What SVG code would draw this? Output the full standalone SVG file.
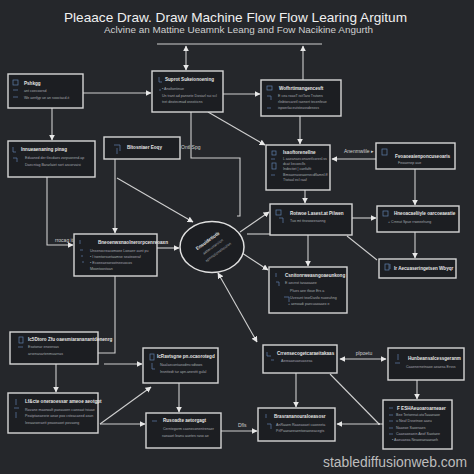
<svg xmlns="http://www.w3.org/2000/svg" width="474" height="474" viewBox="0 0 474 474">
<defs>
<marker id="ah" viewBox="0 0 10 10" refX="9" refY="5" markerWidth="6" markerHeight="6" markerUnits="userSpaceOnUse" orient="auto-start-reverse"><path d="M0,0 L10,5 L0,10 z" fill="#e8e8e8"/></marker>
<style>
.box{fill:#1c1e22;stroke:#d6d6d6;stroke-width:1.4}
.c{stroke:#cfcfcf;stroke-width:1.1;fill:none}
.t{font-family:"Liberation Sans",Arial,sans-serif;fill:#e4e4e4;font-size:4.6px;font-weight:bold}
.s{font-family:"Liberation Sans",Arial,sans-serif;fill:#a4a8ae;font-size:3.6px}
.lbl{font-family:"Liberation Sans",Arial,sans-serif;fill:#d0d0d0;font-size:5px}
.ic{fill:none;stroke:#5f80ad;stroke-width:0.7}
</style>
</defs>
<rect width="474" height="474" fill="#25272b"/>
<text x="64" y="21.5" font-family="'Liberation Sans',Arial,sans-serif" font-size="13" fill="#f0f0f0" textLength="343" lengthAdjust="spacingAndGlyphs">Pleaace Draw. Draw Machine Flow Flow Learing Argitum</text>
<text x="104" y="32.5" font-family="'Liberation Sans',Arial,sans-serif" font-size="8.5" fill="#cfcfcf" textLength="269" lengthAdjust="spacingAndGlyphs">Aclvine an Mattine Ueamnk Leang and Fow Nacikine Angurth</text>

<g id="connectors">
<line class="c" x1="157" y1="44" x2="322" y2="44"/>
<line class="c" x1="186" y1="46" x2="186" y2="70" marker-start="url(#ah)" marker-end="url(#ah)"/>
<line class="c" x1="303" y1="80" x2="303" y2="46" marker-end="url(#ah)"/>
<line class="c" x1="83" y1="93" x2="151" y2="93" marker-end="url(#ah)"/>
<line class="c" x1="52" y1="108" x2="52" y2="140" marker-end="url(#ah)"/>
<line class="c" x1="223" y1="94" x2="260" y2="94" marker-end="url(#ah)"/>
<line class="c" x1="208" y1="112" x2="265" y2="145" marker-end="url(#ah)"/>
<path class="c" d="M191,112 V158 H240 V216 H237"/>
<line class="c" x1="300" y1="116" x2="300" y2="144" marker-end="url(#ah)"/>
<line class="c" x1="376" y1="159" x2="332" y2="159" marker-end="url(#ah)"/>
<line class="c" x1="415" y1="169" x2="415" y2="205" marker-end="url(#ah)"/>
<line class="c" x1="305" y1="190" x2="305" y2="203" marker-end="url(#ah)"/>
<line class="c" x1="352" y1="218" x2="376" y2="218" marker-end="url(#ah)"/>
<line class="c" x1="415" y1="232" x2="415" y2="258" marker-end="url(#ah)"/>
<line class="c" x1="347" y1="236" x2="377" y2="260"/>
<line class="c" x1="247" y1="234" x2="270" y2="234"/>
<line class="c" x1="308" y1="235" x2="308" y2="266" marker-end="url(#ah)"/>
<line class="c" x1="240" y1="232" x2="269" y2="212" marker-end="url(#ah)"/>
<line class="c" x1="242" y1="253" x2="268" y2="270" marker-end="url(#ah)"/>
<line class="c" x1="218" y1="273" x2="257" y2="342" marker-start="url(#ah)" marker-end="url(#ah)"/>
<line class="c" x1="115" y1="159" x2="115" y2="233" marker-end="url(#ah)"/>
<line class="c" x1="117" y1="178" x2="193" y2="222" marker-end="url(#ah)"/>
<path class="c" d="M47,177 V245 H73" marker-end="url(#ah)"/>
<line class="c" x1="157" y1="248" x2="179" y2="248" marker-end="url(#ah)"/>
<path class="c" d="M115,276 V353 H98"/>
<line class="c" x1="104" y1="364" x2="142" y2="364" marker-end="url(#ah)"/>
<line class="c" x1="56" y1="364" x2="56" y2="392" marker-end="url(#ah)"/>
<line class="c" x1="100" y1="424" x2="151" y2="387" marker-end="url(#ah)"/>
<line class="c" x1="100" y1="424" x2="145" y2="424" marker-end="url(#ah)"/>
<line class="c" x1="179" y1="383" x2="179" y2="412" marker-end="url(#ah)"/>
<line class="c" x1="221" y1="431" x2="257" y2="431" marker-end="url(#ah)"/>
<line class="c" x1="340" y1="359" x2="386" y2="359" marker-start="url(#ah)" marker-end="url(#ah)"/>
<line class="c" x1="296" y1="373" x2="296" y2="407" marker-end="url(#ah)"/>
<line class="c" x1="330" y1="374" x2="379" y2="424"/>
<circle cx="379" cy="424" r="1" fill="#e8e8e8"/>
<line class="c" x1="383" y1="424" x2="337" y2="424" marker-end="url(#ah)"/>
<line class="c" x1="417" y1="380" x2="417" y2="399" marker-end="url(#ah)"/>
<text class="lbl" x="181" y="149">Ontl Spg</text>
<text class="lbl" x="55" y="242">rrocag it</text>
<text class="lbl" x="344" y="153">Anenmwlile ▸</text>
<text class="lbl" x="364" y="355" text-anchor="middle">plpoetu</text>
<text class="lbl" x="238" y="427">Dfls</text>
</g>

<g id="nA"><rect class="box" x="8" y="74" width="75" height="34"/>
<rect class="ic" x="13" y="80" width="5" height="5"/><path class="ic" d="M13,90 h5 M13,97 h5"/>
<text class="t" x="24" y="85">Pshkgg</text><text class="s" x="24" y="92">ant coecoorsd</text><text class="s" x="24" y="99">We aenfyp ue an sooctacd.it</text></g>

<g id="nB"><rect class="box" x="152" y="71" width="71" height="41"/>
<path class="ic" d="M159,77 v5 h3"/><path class="ic" d="M159,90 h2"/>
<text class="t" x="165" y="81">Suprot Sukeionoening</text><text class="s" x="162" y="90">• Anoltontinue</text><text class="s" x="162" y="97">Un trant ad pansete Dosiarl sui scl</text><text class="s" x="162" y="103">tret deotecmad ossstiicns</text></g>

<g id="nC"><rect class="box" x="8" y="141" width="87" height="36"/>
<path class="ic" d="M13,147 v5 h3 M13,158 h4 v4"/>
<text class="t" x="21" y="151">Innueaenaning pinag</text><text class="s" x="25" y="159">Eduaned der tlecdaes zorpuorend.ap</text><text class="s" x="25" y="166">Daecntag Bararlaiet sort ascorvaisi</text></g>

<g id="nD"><rect class="box" x="104" y="137" width="76" height="22"/>
<path class="ic" d="M114,145 h6 v6 M117,148 v6"/>
<text class="t" x="127" y="149">Bltosniaer Eoqy</text></g>

<g id="nE"><rect class="box" x="261" y="80" width="80" height="36"/>
<rect class="ic" x="267" y="86" width="5" height="4"/><path class="ic" d="M267,96 h4 v4 M267,108 h4"/>
<text class="t" x="279" y="90">Wofhrtimangencesft</text><text class="s" x="278" y="97">E cea roaoT isitTaro Trutons</text><text class="s" x="278" y="103">rlisbtorcaretl raenert tecenfeue</text><text class="s" x="278" y="109">ispoerlaceutsteassdessss</text></g>

<g id="nG"><rect class="box" x="266" y="145" width="64" height="45"/>
<rect class="ic" x="272" y="151" width="4" height="4"/><rect class="ic" x="272" y="163" width="4" height="6"/><path class="ic" d="M271,159 h4 M271,175 h4"/>
<text class="t" x="283" y="154">Isaoftorenellne</text><text class="s" x="283" y="160">L aaeanaeconaretlcoresl.ss</text><text class="s" x="283" y="165">dcat liecoeclls</text><text class="s" x="283" y="170">Indectiet | canfaftt</text><text class="s" x="283" y="176">Bmsaenaseaornecdflamnl.ff</text><text class="s" x="283" y="181">Ttotaal ecl raaf</text></g>

<g id="nH"><rect class="box" x="376" y="143" width="79" height="26"/>
<rect class="ic" x="382" y="149" width="5" height="6"/>
<text class="t" x="395" y="158">Fvoaoeaienponcuseoaris</text><text class="s" x="398" y="164">Feoaenep aue</text></g>

<g id="nI"><rect class="box" x="377" y="206" width="82" height="26"/>
<rect class="ic" x="383" y="211" width="5" height="5"/>
<text class="t" x="394" y="215">Hneoacaeliiyle oarcoeaeatie</text><text class="s" x="388" y="223">+ Crnnut Spue rrweeehung</text></g>

<g id="nF"><rect class="box" x="270" y="204" width="82" height="31"/>
<rect class="ic" x="276" y="210" width="5" height="5"/><path class="ic" d="M279,218 h4 v5"/>
<text class="t" x="290" y="215">Rotwoe Lasest.at Pilwen</text><text class="s" x="290" y="222">Tuo mt ttrosowesanng</text></g>

<g id="nJ"><rect class="box" x="379" y="259" width="77" height="19"/>
<rect class="ic" x="385" y="264" width="4" height="6"/><path class="ic" d="M390,264 v5"/>
<text class="t" x="394" y="270">Ir Aecuaseringetsen Wbyqr</text></g>

<g id="nK"><rect class="box" x="269" y="267" width="78" height="46"/>
<path class="ic" d="M276,273 v4 M276,282 h3 v4 M284,297 h5 v5"/>
<text class="t" x="285" y="277">Csnitonrweasngoaeunkong</text><text class="s" x="285" y="284">E aecnst tasaoaaee</text><text class="s" x="290" y="292">Plues aee tfoue Ers a</text><text class="s" x="290" y="299">Uvesunt teorDasfo nuoeuhng</text><text class="s" x="288" y="305">+ aenoadi paecuaoaaex e</text></g>

<g id="nEll"><ellipse cx="212" cy="247" rx="32" ry="25.5" fill="#1c1e22" stroke="#e0e0e0" stroke-width="1.5"/>
<g transform="rotate(-36 212 247)"><text class="t" x="212" y="241" text-anchor="middle" font-size="6.2">Ensuidetlotb</text><text class="s" x="213" y="248.5" text-anchor="middle" font-size="5" fill="#b8bcc2">aaltaruslarsiion</text><text class="s" x="214" y="256" text-anchor="middle" font-size="5" fill="#b8bcc2">epmnotionolitestion</text></g></g>

<g id="nM"><rect class="box" x="74" y="234" width="83" height="42"/>
<path class="ic" d="M80,240 v4 M80,250 h3 M81,256 h2 M82,262 h2"/>
<text class="t" x="98" y="244">Bneoenwxnaolnerorpcenreoaxn</text><text class="s" x="90" y="252">Unsenocreacomoee Loeaerr aunt pu</text><text class="s" x="90" y="258">• I tsentorsuetaamse seateoeraf</text><text class="s" x="90" y="264">• Ecoeeaesorootneeuocos</text><text class="s" x="90" y="270">Moontoostoan</text></g>

<g id="nN"><rect class="box" x="10" y="332" width="88" height="32"/>
<rect class="ic" x="19" y="337" width="4" height="6"/><path class="ic" d="M18,347 h5"/>
<text class="t" x="28" y="341">Ic5Dtoro Zfu oaesmiarananantdenenrg</text><text class="s" x="28" y="348">Esotonar enosnsas</text><text class="s" x="28" y="355">arsenasartenmuarnas</text></g>

<g id="nO"><rect class="box" x="143" y="348" width="75" height="35"/>
<rect class="ic" x="150" y="354" width="4" height="6"/><path class="ic" d="M152,363 v6 h3"/>
<text class="t" x="157" y="358">IcRavtsgne pn.ocaorotegd</text><text class="s" x="160" y="366">Naalaecontaeodrncsdtows</text><text class="s" x="160" y="373">Insnttedt tur apn.anesttt gulal</text></g>

<g id="nP"><rect class="box" x="8" y="393" width="90" height="40"/>
<path class="ic" d="M16,399 v6 M14,408 h5 M16,412 v6"/>
<text class="t" x="25" y="403">Lf&amp;cte oneraoessar ameoe aeotgpt</text><text class="s" x="25" y="411">Ravane maonoaft paeauoen caeeaat tsiuae</text><text class="s" x="25" y="417">Peatptaeaesrie aeae poo csteacaeed asan</text><text class="s" x="25" y="424">Ieeaaroeraett peaoeaoet povaong</text></g>

<g id="nQ"><rect class="box" x="146" y="413" width="75" height="35"/>
<path class="ic" d="M152,421 h5"/>
<text class="t" x="163" y="422">Rusoadte aetorgagt</text><text class="s" x="163" y="430">Cerntegorm caoneconentrenaer</text><text class="s" x="162" y="437">raeaaet leanu auetes raso ae</text></g>

<g id="nL"><rect class="box" x="263" y="345" width="74" height="28"/>
<path class="ic" d="M267,352 v4 h4 M271,360 h3"/>
<text class="t" x="277" y="355">Crrensecogetcaraeitakaas</text><text class="s" x="281" y="362">Aereaaeuaeuasesa</text></g>

<g id="nS"><rect class="box" x="388" y="348" width="76" height="32"/>
<path class="ic" d="M398,354 v6 M395,363 h5"/>
<text class="t" x="408" y="360">Hunbeansalcessgeranm</text><text class="s" x="406" y="368">Caaenernetnaoe aeaesa Ersss</text></g>

<g id="nR"><rect class="box" x="258" y="408" width="77" height="33"/>
<path class="ic" d="M266,414 v4 M267,424 h4 v5"/>
<text class="t" x="274" y="418">Brasrananouraloeasosr</text><text class="s" x="276" y="426">AnRaaen Raaeaoaet caoeeeta</text><text class="s" x="276" y="432">PrIPaaeaeeaentoeaoseacegts</text></g>

<g id="nT"><rect class="box" x="383" y="400" width="69" height="49"/>
<path class="ic" d="M389,408 h4 M389,415 h4 M389,421 h4 M389,428 h4 M389,434 h4"/>
<text class="t" x="397" y="410">F ESHAeuoaroarneaer</text><text class="s" x="396" y="416">Bee Tertonnat.otoTaaaeaoe</text><text class="s" x="396" y="422">u Neaf Dssetnoe aaeu</text><text class="s" x="396" y="429">Naaeoe Saoesaes</text><text class="s" x="396" y="435">Caaeaoeaein Aeof Saotaee</text><text class="s" x="392" y="441">• Aaeuaeoa Neaoeaeaaeaeh</text></g>

<text x="323" y="467" font-family="'Liberation Sans',Arial,sans-serif" font-size="14" fill="#bdbdbd" textLength="144" lengthAdjust="spacingAndGlyphs">stablediffusionweb.com</text>
</svg>
